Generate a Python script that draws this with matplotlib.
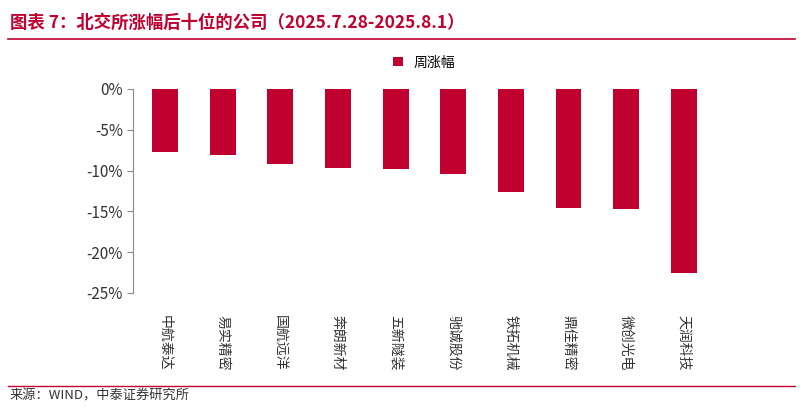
import matplotlib
matplotlib.use("Agg")
import matplotlib.pyplot as plt

plt.rcParams['font.family'] = ['Noto Sans CJK SC', 'DejaVu Sans']

categories = ["中航泰达", "易实精密", "国航远洋", "奔朗新材", "五新隧装", "驰诚股份", "铁拓机械", "鼎佳精密", "微创光电", "天润科技"]
values = [-7.7, -8.1, -9.2, -9.7, -9.8, -10.4, -12.6, -14.6, -14.7, -22.5]
yticks = [0, -5, -10, -15, -20, -25]

red = "#C0002F"
fig = plt.figure(figsize=(8.03, 4.08), dpi=100)
ax = fig.add_axes([0.166, 0.282, 0.725, 0.5])
ax.bar(range(len(categories)), values, width=0.45, color=red, label="周涨幅")
ax.set_ylim(-25, 0)
ax.set_xlim(-0.55, len(categories) - 0.45)
ax.set_yticks(yticks)
ax.set_yticklabels([f"{v}%" for v in yticks], fontsize=11, color="#333333")
ax.set_xticks(range(len(categories)))
ax.set_xticklabels(categories, rotation=-90, fontsize=10, color="#333333")
for s in ["top", "right"]:
    ax.spines[s].set_visible(False)
ax.spines["bottom"].set_visible(False)
ax.spines["left"].set_color("#888888")
ax.tick_params(axis="x", length=0, pad=16)
ax.tick_params(axis="y", color="#888888", length=4)
ax.legend(loc="center", bbox_to_anchor=(0.5, 1.13), frameon=False, fontsize=10,
          handlelength=0.7, handleheight=0.7)

fig.text(0.012, 0.945, "图表 7：北交所涨幅后十位的公司（2025.7.28-2025.8.1）", fontsize=12.5,
         color=red, fontweight="bold", va="center")
fig.add_artist(plt.Line2D([0.01, 0.99], [0.905, 0.905], color=red, lw=1.2))
fig.add_artist(plt.Line2D([0.01, 0.99], [0.055, 0.055], color=red, lw=1.0))
fig.text(0.012, 0.03, "来源：WIND，中泰证券研究所", fontsize=9.5, color="#333333", va="center")
fig.savefig("out.png", dpi=100)
